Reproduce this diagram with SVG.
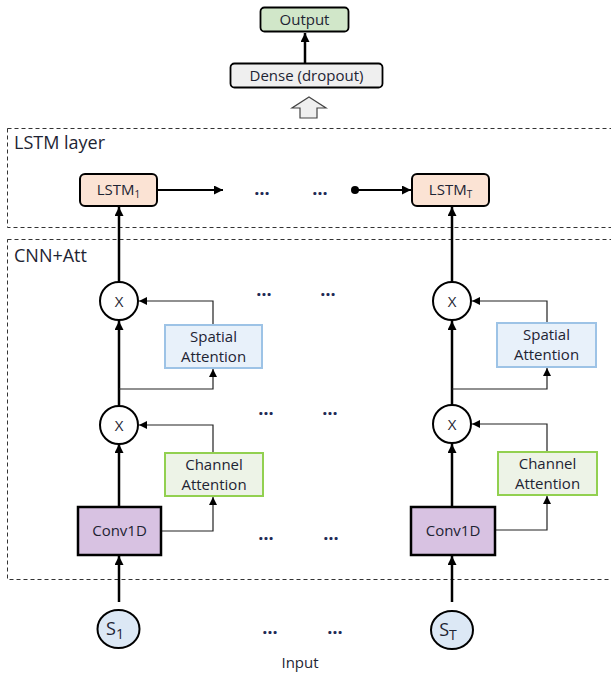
<svg xmlns="http://www.w3.org/2000/svg" width="611" height="673" viewBox="0 0 611 673">
<defs>
<marker id="ah" viewBox="0 0 10 10" refX="10" refY="5" markerWidth="9" markerHeight="9" markerUnits="userSpaceOnUse" orient="auto"><path d="M0,0 L10,5 L0,10 z" fill="#000"/></marker>
<marker id="ahs" viewBox="0 0 10 10" refX="10" refY="5" markerWidth="8" markerHeight="8" markerUnits="userSpaceOnUse" orient="auto"><path d="M0,0 L10,5 L0,10 z" fill="#000"/></marker>
</defs>
<style>
text{font-family:"Open Sans","Liberation Sans",sans-serif;fill:#1e2433}
.lbl{font-size:15px;text-anchor:middle}
.big{font-size:18px}
.dots{font-size:18px;font-weight:bold;text-anchor:middle;fill:#1e2a55}
.dash{fill:none;stroke:#333;stroke-width:1;stroke-dasharray:4,3}
.thick{fill:none;stroke:#000;stroke-width:2.5;marker-end:url(#ah)}
.thin{fill:none;stroke:#222;stroke-width:1.2;marker-end:url(#ahs)}
.circ{fill:#fff;stroke:#000;stroke-width:2}
.lstm{fill:#fbe3d4;stroke:#000;stroke-width:2}
.conv{fill:#d8c2e2;stroke:#000;stroke-width:2.5}
.sp{fill:#e8f1fa;stroke:#9dc3e6;stroke-width:2}
.ch{fill:#edf3e7;stroke:#92d050;stroke-width:2}
.s{fill:#dce8f5;stroke:#000;stroke-width:2}
</style>
<rect width="611" height="673" fill="#fff"/>
<g id="lstm-layer"><rect class="dash" x="7.5" y="128.5" width="610" height="99"/><text class="big" x="14" y="149">LSTM layer</text></g>
<g id="cnn-att"><rect class="dash" x="7.5" y="239.5" width="610" height="340"/><text class="big" x="14" y="262">CNN+Att</text></g>

<g id="connectors">
<path d="M305,63 V33" class="thick"/>
<path d="M157,190 H223" fill="none" stroke="#000" stroke-width="1.8" marker-end="url(#ah)"/>
<circle cx="355" cy="190" r="4" fill="#000"/>
<path d="M355,190 H411" fill="none" stroke="#000" stroke-width="1.8" marker-end="url(#ah)"/>
<path d="M119,602 V556" class="thick"/>
<path d="M119,507 V444" class="thick"/>
<path d="M119,405 V321" class="thick"/>
<path d="M119,282 V207" class="thick"/>
<path d="M161,531 H213 V497" class="thin"/>
<path d="M213,453 V425 H139" class="thin"/>
<path d="M119,389 H213 V369" class="thin"/>
<path d="M213,325 V301 H139" class="thin"/>
<path d="M452,602 V556" class="thick"/>
<path d="M452,507 V444" class="thick"/>
<path d="M452,405 V321" class="thick"/>
<path d="M452,282 V207" class="thick"/>
<path d="M494,530 H547 V496" class="thin"/>
<path d="M547,452 V424 H472" class="thin"/>
<path d="M452,389 H547 V368" class="thin"/>
<path d="M547,323 V301 H472" class="thin"/>
</g>

<g id="output"><rect x="260.5" y="7.5" width="88" height="24" rx="4" fill="#d1e7c9" stroke="#000" stroke-width="1.8"/><text class="lbl" x="304.5" y="25">Output</text></g>
<g id="dense"><rect x="230.5" y="63.5" width="152" height="24" rx="4" fill="#efefef" stroke="#000" stroke-width="1.8"/><text class="lbl" x="306.5" y="81">Dense (dropout)</text></g>
<g id="up-arrow"><polygon points="309,97 326,108 317,108 317,118 300,118 300,108 292,108" fill="#efefef" stroke="#444" stroke-width="1.2"/></g>

<g id="lstm1"><rect class="lstm" x="80" y="174" width="77" height="32" rx="5"/><text class="lbl" x="118.5" y="195">LSTM<tspan font-size="10" dy="3">1</tspan></text></g>
<g id="lstmT"><rect class="lstm" x="412" y="174" width="77" height="32" rx="5"/><text class="lbl" x="450.5" y="195">LSTM<tspan font-size="10" dy="3">T</tspan></text></g>

<g id="dots">
<text class="dots" x="262" y="195">…</text><text class="dots" x="320" y="195">…</text>
<text class="dots" x="264" y="296">…</text><text class="dots" x="328" y="296">…</text>
<text class="dots" x="266" y="415">…</text><text class="dots" x="330" y="415">…</text>
<text class="dots" x="266" y="540">…</text><text class="dots" x="331" y="540">…</text>
<text class="dots" x="270" y="634">…</text><text class="dots" x="335" y="634">…</text>
</g>

<g id="mul1a"><circle class="circ" cx="119" cy="301" r="19"/><text class="lbl" x="119" y="306.5">X</text></g>
<g id="mul2a"><circle class="circ" cx="119" cy="425" r="19"/><text class="lbl" x="119" y="430.5">X</text></g>
<g id="spatial1"><rect class="sp" x="165" y="325" width="97" height="43"/><text class="lbl" x="213.5" y="342">Spatial</text><text class="lbl" x="213.5" y="362">Attention</text></g>
<g id="channel1"><rect class="ch" x="165" y="453" width="98" height="43"/><text class="lbl" x="214" y="470">Channel</text><text class="lbl" x="214" y="490">Attention</text></g>
<g id="conv1"><rect class="conv" x="78" y="507" width="83" height="48"/><text class="lbl" x="119.5" y="536">Conv1D</text></g>
<g id="s1"><ellipse class="s" cx="118.5" cy="629" rx="21" ry="19"/><text x="115" y="635" font-size="18" text-anchor="middle">S<tspan font-size="14" dy="4">1</tspan></text></g>

<g id="mul1b"><circle class="circ" cx="452" cy="301" r="19"/><text class="lbl" x="452" y="306.5">X</text></g>
<g id="mul2b"><circle class="circ" cx="452" cy="424" r="19"/><text class="lbl" x="452" y="429.5">X</text></g>
<g id="spatial2"><rect class="sp" x="497" y="323" width="99" height="44"/><text class="lbl" x="546.5" y="340">Spatial</text><text class="lbl" x="546.5" y="360">Attention</text></g>
<g id="channel2"><rect class="ch" x="498" y="452" width="99" height="43"/><text class="lbl" x="547.5" y="469">Channel</text><text class="lbl" x="547.5" y="489">Attention</text></g>
<g id="conv2"><rect class="conv" x="411" y="507" width="84" height="48"/><text class="lbl" x="453" y="536">Conv1D</text></g>
<g id="sT"><ellipse class="s" cx="452" cy="630" rx="21" ry="19"/><text x="448" y="636" font-size="18" text-anchor="middle">S<tspan font-size="14" dy="4">T</tspan></text></g>

<g id="input-label"><text class="lbl" x="300" y="668" font-size="14">Input</text></g>
</svg>
